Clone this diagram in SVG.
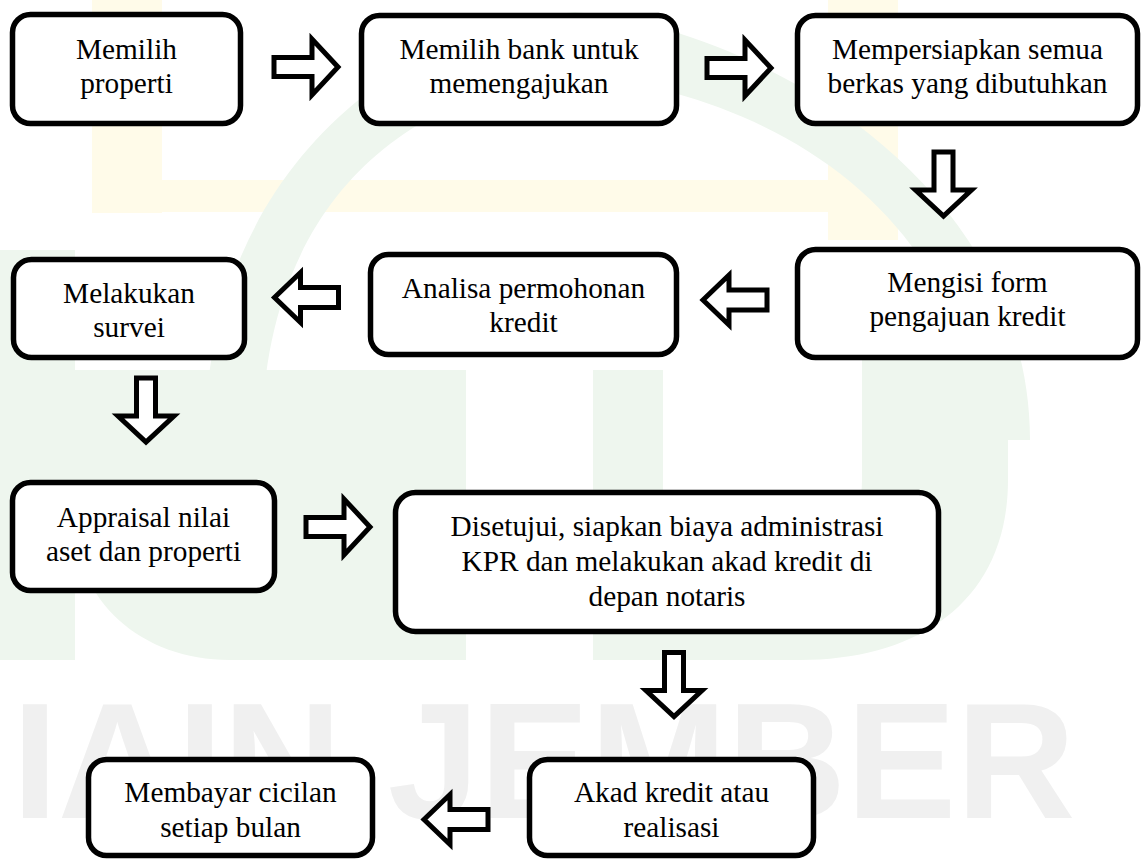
<svg xmlns="http://www.w3.org/2000/svg" width="1142" height="859" viewBox="0 0 1142 859">
<style>
.box{fill:#fff;stroke:#000;stroke-width:5.5}
.arr{fill:#fff;stroke:#000;stroke-width:5;stroke-linejoin:miter;stroke-miterlimit:10}
.g{fill:#eef6ee}
.y{fill:#fffbe9}
</style>
<defs>
<path id="ar" d="M-33,-9.5 H5 V-28 L31,0 L5,28 V9.5 H-33 Z"/>
<path id="al" d="M-33,-10 H5 V-25 L31,0 L5,25 V10 H-33 Z"/>
</defs>
<rect width="1142" height="859" fill="#fff"/>
<g id="watermark">
<rect class="y" x="92" y="0" width="70" height="213"/>
<rect class="y" x="828" y="0" width="70" height="240"/>
<rect class="y" x="92" y="180" width="806" height="32"/>
<path class="g" d="M205,440 C205,190 380,30 575,12 C770,30 1030,190 1030,440 L975,440 C975,230 790,95 575,75 C380,95 262,230 262,440 Z"/>
<rect class="g" x="0" y="250" width="75" height="410"/>
<path class="g" d="M75,370 H466 V660 H230 C140,660 75,600 75,520 Z"/>
<rect class="g" x="593" y="370" width="70" height="290"/>
<path class="g" d="M862,320 H1008 V480 C1008,600 920,660 800,660 H663 V620 C780,620 862,560 862,480 Z"/>
<text font-family="Liberation Sans" font-weight="bold" font-size="165" fill="#f0f0f0" x="12" y="818">IAIN JEMBER</text>
</g>
<g id="connectors">
<use href="#ar" class="arr" transform="translate(307,67)"/>
<use href="#ar" class="arr" transform="translate(740,68)"/>
<use href="#ar" class="arr" transform="translate(943.5,185) rotate(90)"/>
<use href="#al" class="arr" transform="translate(734,300) rotate(180)"/>
<use href="#al" class="arr" transform="translate(305.5,297.5) rotate(180)"/>
<use href="#ar" class="arr" transform="translate(146,411) rotate(90)"/>
<use href="#ar" class="arr" transform="translate(339,527)"/>
<use href="#ar" class="arr" transform="translate(674,685.5) rotate(90)"/>
<use href="#al" class="arr" transform="translate(455,819.5) rotate(180)"/>
</g>
<g font-family="Liberation Serif" font-size="29.3" text-anchor="middle" fill="#000">
<g id="n1"><rect class="box" x="12.5" y="14.5" width="228" height="109" rx="18"/><text x="126.5" y="59">Memilih</text><text x="126.5" y="93">properti</text></g>
<g id="n2"><rect class="box" x="361.5" y="15.5" width="315" height="108" rx="18"/><text x="519" y="59">Memilih bank untuk</text><text x="519" y="93">memengajukan</text></g>
<g id="n3"><rect class="box" x="797.5" y="15.5" width="340" height="108" rx="18"/><text x="967.5" y="59">Mempersiapkan semua</text><text x="967.5" y="93">berkas yang dibutuhkan</text></g>
<g id="n4"><rect class="box" x="797.5" y="249.5" width="340" height="108" rx="18"/><text x="967.5" y="292">Mengisi form</text><text x="967.5" y="326">pengajuan kredit</text></g>
<g id="n5"><rect class="box" x="370.5" y="254.5" width="306" height="100" rx="18"/><text x="523.5" y="298">Analisa permohonan</text><text x="523.5" y="332">kredit</text></g>
<g id="n6"><rect class="box" x="13.5" y="259.5" width="231" height="98" rx="18"/><text x="129" y="303">Melakukan</text><text x="129" y="337">survei</text></g>
<g id="n7"><rect class="box" x="12.5" y="482.5" width="262" height="108" rx="18"/><text x="143.5" y="527">Appraisal nilai</text><text x="143.5" y="561">aset dan properti</text></g>
<g id="n8"><rect class="box" x="395.5" y="492.5" width="543" height="139" rx="20"/><text x="667" y="536">Disetujui, siapkan biaya administrasi</text><text x="667" y="571">KPR dan melakukan akad kredit di</text><text x="667" y="606">depan notaris</text></g>
<g id="n9"><rect class="box" x="529.5" y="759.5" width="284" height="96" rx="18"/><text x="671.5" y="802">Akad kredit atau</text><text x="671.5" y="837">realisasi</text></g>
<g id="n10"><rect class="box" x="88.5" y="759.5" width="284" height="96" rx="18"/><text x="230.5" y="802">Membayar cicilan</text><text x="230.5" y="837">setiap bulan</text></g>
</g>
</svg>
